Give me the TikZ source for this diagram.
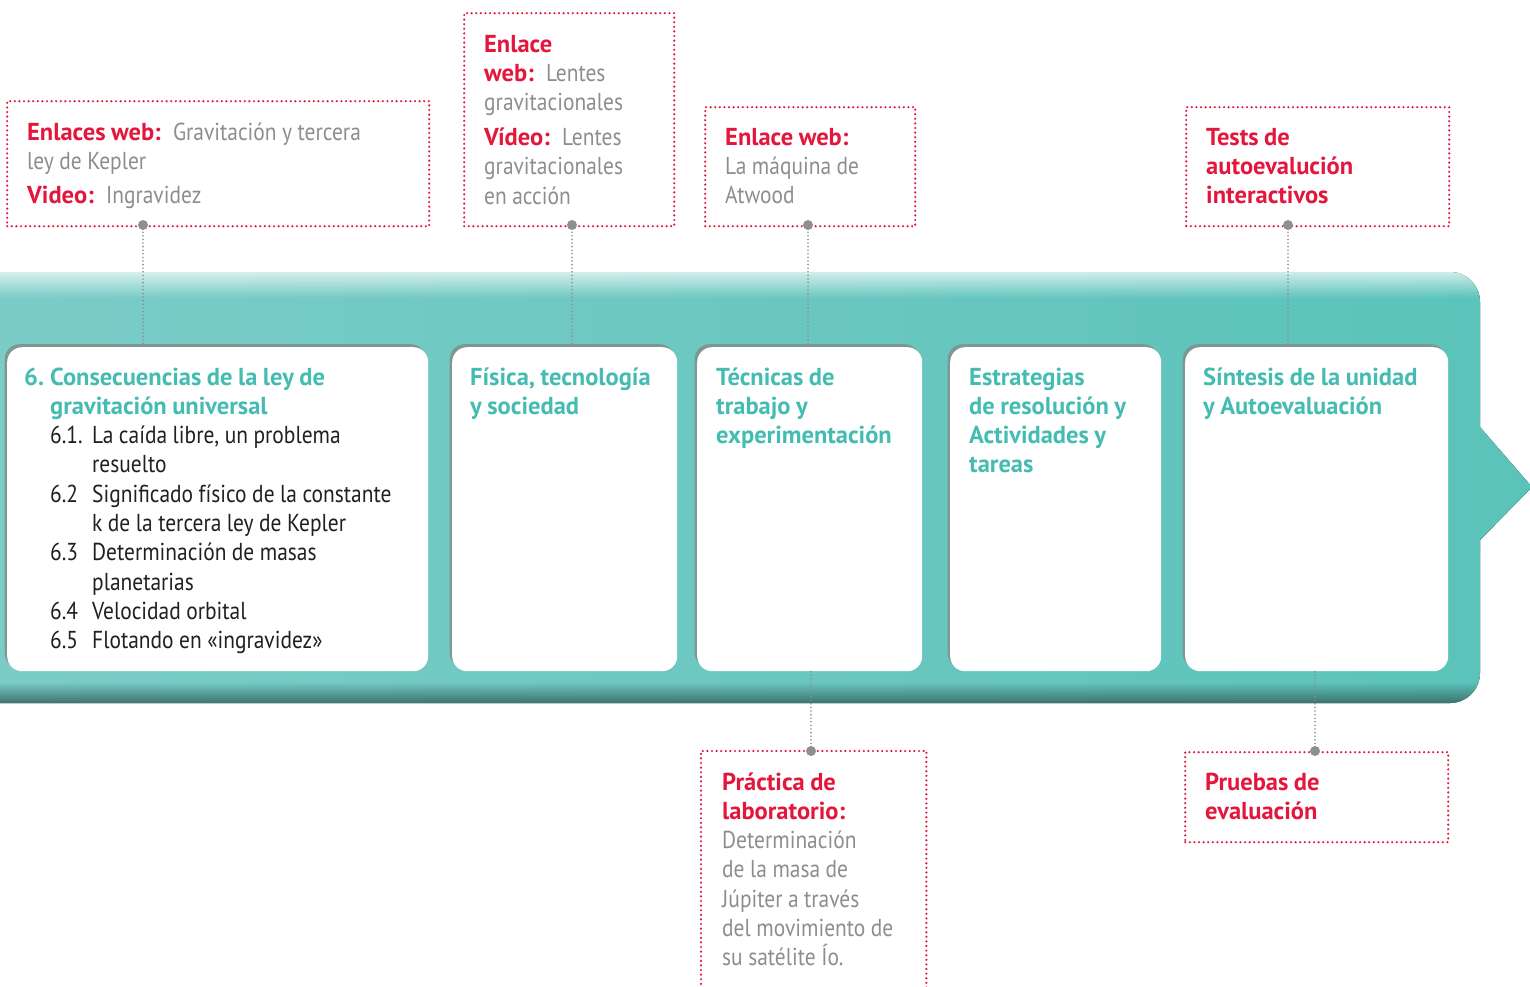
\documentclass[tikz,border=0pt]{standalone}
\usepackage{fontspec}
\setmainfont{PT Sans}[UprightFeatures={FakeStretch=0.875},BoldFeatures={FakeStretch=1.0}]
\usetikzlibrary{fadings,shadows}
\definecolor{tealtx}{HTML}{45BCB2}
\definecolor{bandL}{HTML}{7BCCC7}
\definecolor{bandR}{HTML}{5AC3BA}
\definecolor{bandD}{HTML}{3B6F6B}
\definecolor{redc}{HTML}{E3173C}
\definecolor{graytx}{HTML}{8C8D90}
\definecolor{bodytx}{HTML}{231F20}
\definecolor{dotgray}{HTML}{8E8F92}
\definecolor{shadowc}{HTML}{7D9795}
\newcommand\rb[1]{{\bfseries\color{redc}#1}}
\newcommand\hd{\bfseries\color{tealtx}}
\newcommand\bd{\mdseries\color{bodytx}}
\newcommand\num[1]{\makebox[42pt][l]{#1}}
\newcommand\tightsp{\spaceskip=5.5pt plus 2pt minus 1pt\relax}
\begin{document}
\begin{tikzpicture}[x=1pt,y=-1pt,
  wbox/.style={fill=white, rounded corners=15pt, inner sep=0pt, anchor=north west,
    minimum height=324pt,
    general shadow={fill=shadowc, shadow xshift=-2.5pt, shadow yshift=3pt}},
  callout/.style={inner sep=0pt, anchor=north west},
  redline/.style={draw=redc, line width=2.4pt, dash pattern=on 0pt off 4.6pt, line cap=round},
  conn/.style={draw=dotgray, line width=1.8pt, dash pattern=on 0pt off 3.6pt, line cap=round},
  cdot/.style={fill=dotgray},
  ctext/.style={anchor=base west, inner sep=0pt, align=left, text width=#1,
    font=\fontsize{24.5}{29.3}\selectfont, text=graytx},
  htext/.style={anchor=base west, inner sep=0pt, align=left, text width=#1,
    font=\fontsize{24.5}{29.3}\selectfont\bfseries, text=tealtx}
]
\useasboundingbox (0,0) rectangle (1530,986);
\clip (0,0) rectangle (1530,986);

% band
\def\bandpath{(-5,272) -- (1450,272) arc[start angle=-90,end angle=0,radius=30]
  -- (1480,427) -- (1532,487) -- (1480,540) -- (1480,673)
  arc[start angle=0,end angle=90,radius=30] -- (-5,703) -- cycle}
\fill[left color=bandL, right color=bandR] \bandpath;
\begin{scope}
  \clip \bandpath;
  \fill[white, opacity=0.75, path fading=south] (-5,270) rectangle (1535,298);
  \fill[bandD, path fading=north] (-5,682) rectangle (1535,704);
  \fill[white, opacity=0.4, path fading=south] (1480,427) -- (1532,487) -- (1532,470) -- (1480,415) -- cycle;
  \fill[bandD, opacity=0.6] (1480,540) -- (1532,487) -- (1535,497) -- (1480,552) -- cycle;
\end{scope}

% white boxes
\node[wbox, minimum width=421pt] (b1) at (7,347) {};
\node[wbox, minimum width=225pt] (b2) at (452,347) {};
\node[wbox, minimum width=225pt] (b3) at (697,347) {};
\node[wbox, minimum width=211pt] (b4) at (950,347) {};
\node[wbox, minimum width=263pt] (b5) at (1185,347) {};

% box texts
\node[htext=400pt] (t1) at (24,385) {\tightsp\hd\makebox[26pt][l]{6.}Consecuencias de la ley de\\
  \hspace*{26pt}gravitación universal\\
  \bd\tightsp\hspace*{26pt}\num{6.1.}La caída libre, un problema\\
  \hspace*{26pt}\num{}resuelto\\
  \hspace*{26pt}\num{6.2}Significado físico de la constante\\
  \hspace*{26pt}\num{}k de la tercera ley de Kepler\\
  \hspace*{26pt}\num{6.3}Determinación de masas\\
  \hspace*{26pt}\num{}planetarias\\
  \hspace*{26pt}\num{6.4}Velocidad orbital\\
  \hspace*{26pt}\num{6.5}Flotando en «ingravidez»};
\node[htext=205pt] (t2) at (470,385) {\tightsp Física, tecnología\\y sociedad};
\node[htext=205pt] (t3) at (716,385) {\tightsp Técnicas de\\trabajo y\\experimentación};
\node[htext=190pt] (t4) at (969,385) {\tightsp Estrategias\\de resolución y\\Actividades y\\tareas};
\node[htext=240pt] (t5) at (1203,385) {\tightsp Síntesis de la unidad\\y Autoevaluación};

% callouts
\node[callout, redline, minimum width=422pt, minimum height=125pt] (cA) at (6,100) {};
\node[callout, redline, minimum width=210pt, minimum height=213pt] (cB) at (463,12) {};
\node[callout, redline, minimum width=210pt, minimum height=119pt] (cC) at (704,106) {};
\node[callout, redline, minimum width=263pt, minimum height=119pt] (cD) at (1185,106) {};
\node[callout, minimum width=225pt, minimum height=260pt] (cE) at (701,751) {};
\draw[redline] (cE.south west) -- (cE.north west) -- (cE.north east) -- (cE.south east);
\node[callout, redline, minimum width=263pt, minimum height=90pt] (cF) at (1184,751) {};

\node[ctext=395pt] (tA) at (27,140) {\tightsp\rb{Enlaces web:} Gravitación y tercera\\ley de Kepler\\[4.7pt]\rb{Video:} Ingravidez};
\node[ctext=185pt] (tB) at (484,52) {\tightsp\rb{Enlace}\\\rb{web:} Lentes\\gravitacionales\\[5.5pt]\rb{Vídeo:} Lentes\\gravitacionales\\en acción};
\node[ctext=185pt] (tC) at (725,145) {\tightsp\rb{Enlace web:}\\La máquina de\\Atwood};
\node[ctext=235pt] (tD) at (1206,145) {\tightsp\rb{Tests de}\\\rb{autoevalución}\\\rb{interactivos}};
\node[ctext=200pt] (tE) at (722,790) {\tightsp\rb{Práctica de}\\\rb{laboratorio:}\\Determinación\\de la masa de\\Júpiter a través\\del movimiento de\\su satélite Ío.};
\node[ctext=235pt] (tF) at (1205,790) {\tightsp\rb{Pruebas de}\\\rb{evaluación}};

% connectors
\coordinate (pA) at (143,225);
\coordinate (pB) at (572,225);
\coordinate (pC) at (808,225);
\coordinate (pD) at (1288,225);
\coordinate (pE) at (811,751);
\coordinate (pF) at (1315,751);
\draw[conn] (pA) -- (pA |- b1.north);
\draw[conn] (pB) -- (pB |- b2.north);
\draw[conn] (pC) -- (pC |- b3.north);
\draw[conn] (pD) -- (pD |- b5.north);
\draw[conn] (pE |- b3.south) -- (pE);
\draw[conn] (pF |- b5.south) -- (pF);
\foreach \p in {pA,pB,pC,pD,pE,pF} \fill[cdot] (\p) circle[radius=5pt];
\end{tikzpicture}
\end{document}
